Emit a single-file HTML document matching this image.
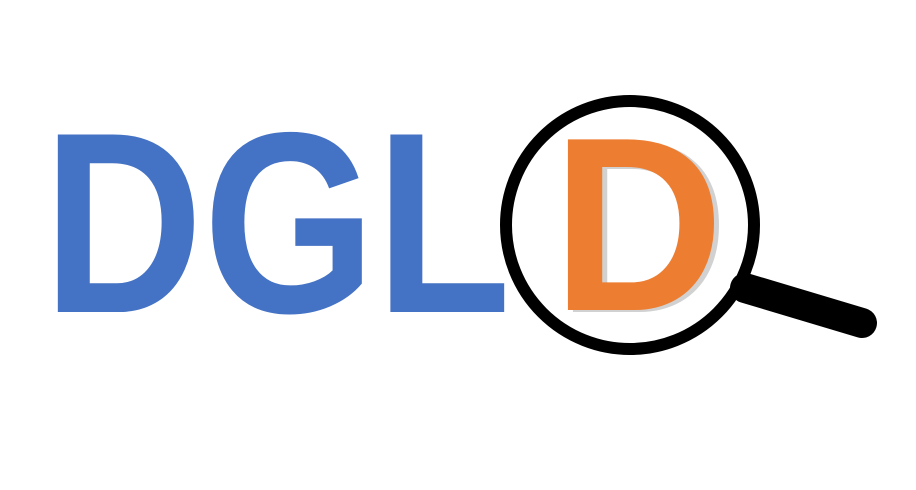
<!DOCTYPE html>
<html>
<head>
<meta charset="utf-8">
<style>
  html,body{margin:0;padding:0;background:#fff;width:916px;height:490px;overflow:hidden;}
  svg{display:block;}
</style>
</head>
<body>
<svg width="916" height="490" viewBox="0 0 916 490">
  <text x="43" y="312" font-family="Liberation Sans, Arial, sans-serif" font-weight="bold" font-size="258" fill="#4472C4" textLength="468" lengthAdjust="spacingAndGlyphs">DGL</text>
  <text x="557" y="312" font-family="Liberation Sans, Arial, sans-serif" font-weight="bold" font-size="248" fill="#9a9a9a" opacity="0.45" textLength="172" lengthAdjust="spacingAndGlyphs">D</text>
  <text x="552" y="310" font-family="Liberation Sans, Arial, sans-serif" font-weight="bold" font-size="248" fill="#ED7D31" textLength="172" lengthAdjust="spacingAndGlyphs">D</text>
  <g>
    <line x1="745" y1="288" x2="862" y2="323" stroke="#000" stroke-width="30" stroke-linecap="round"/>
    <circle cx="630" cy="225" r="124" fill="none" stroke="#000" stroke-width="12"/>
  </g>
</svg>
</body>
</html>
